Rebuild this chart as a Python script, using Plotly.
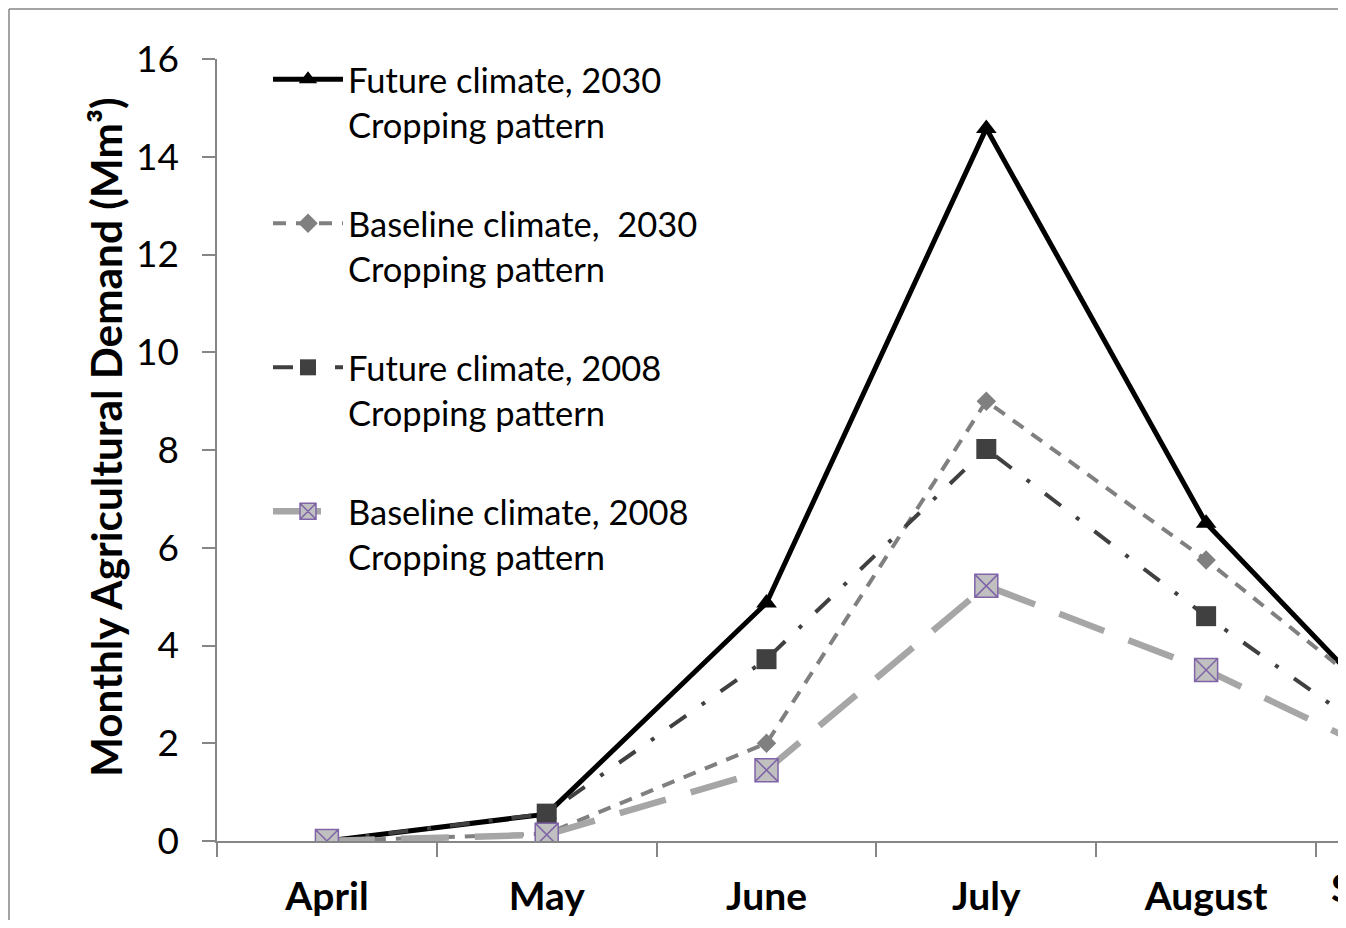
import plotly.graph_objects as go

months = ["April", "May", "June", "July", "August", "September"]
future_2030 = [0.0, 0.55, 4.87, 14.58, 6.5, 1.8]
baseline_2030 = [0.0, 0.15, 2.0, 9.0, 5.75, 2.15]
future_2008 = [0.0, 0.56, 3.72, 8.02, 4.6, 1.42]
baseline_2008 = [0.0, 0.13, 1.45, 5.22, 3.5, 1.35]

names = [
    "Future climate, 2030<br>Cropping pattern",
    "Baseline climate,\u00a0 2030<br>Cropping pattern",
    "Future climate, 2008<br>Cropping pattern",
    "Baseline climate, 2008<br>Cropping pattern",
]
y_title = "Monthly Agricultural Demand (Mm³)"

FONT = "Lato, 'Open Sans', sans-serif"
AXIS = "#868686"
X_RANGE = [-0.5, 4.600]

# page body has an 8px margin, so the figure is offset by 8px in the window
W, H = 1330, 912
ML, MR, MT, MB = 209, 0, 51, 79

fig = go.Figure()
fig.add_trace(go.Scatter(
    x=months, y=future_2030, name=names[0], legendgroup="a", mode="lines+markers",
    line=dict(color="#000000", width=5),
    marker=dict(symbol="triangle-up", size=18, color="#000000"),
))
fig.add_trace(go.Scatter(
    x=months, y=baseline_2030, name=names[1], legendgroup="b", mode="lines+markers",
    line=dict(color="#808080", width=4, dash="13px,10px"),
    marker=dict(symbol="diamond", size=15, color="#808080"),
))
fig.add_trace(go.Scatter(
    x=months, y=future_2008, name=names[2], legendgroup="c", mode="lines+markers",
    line=dict(color="#404040", width=4, dash="20px,19px,4px,19px"),
    marker=dict(symbol="square", size=20, color="#404040"),
))
fig.add_trace(go.Scatter(
    x=months, y=baseline_2008, name=names[3], legendgroup="d", mode="lines+markers",
    line=dict(color="#A6A6A6", width=6.5, dash="48px,26px"),
    marker=dict(symbol="square-x", size=23, color="#C0C0C0",
                line=dict(color="#7F64A8", width=1.5)),
))

plot_w = W - ML - MR
plot_h = H - MT - MB

fig.update_layout(
    width=W, height=H,
    margin=dict(l=ML, r=MR, t=MT, b=MB, pad=0),
    paper_bgcolor="white", plot_bgcolor="white",
    font=dict(family=FONT, color="#000000"),
    showlegend=True,
    legend=dict(
        x=51 / plot_w, y=1.011, xanchor="left", yanchor="top",
        font=dict(family=FONT, size=34.5, color="#000000"),
        bgcolor="rgba(0,0,0,0)", valign="top",
        tracegroupgap=51.3, itemsizing="trace", itemwidth=70, maxheight=800,
    ),
    xaxis=dict(
        type="category", categoryorder="array", categoryarray=months,
        range=X_RANGE, tickson="boundaries",
        ticks="outside", ticklen=14, tickwidth=1.5, tickcolor=AXIS,
        showline=True, linecolor=AXIS, linewidth=1.5,
        showgrid=False, zeroline=False,
        tickfont=dict(family=FONT, size=39, weight="bold", color="#000000"),
        ticklabelstandoff=20,
    ),
    yaxis=dict(
        range=[0, 16], dtick=2, tick0=0,
        ticks="outside", ticklen=13, tickwidth=1.5, tickcolor=AXIS,
        showline=True, linecolor=AXIS, linewidth=1.5,
        showgrid=False, zeroline=False,
        tickfont=dict(family=FONT, size=37, color="#000000"),
        ticklabelstandoff=16,
    ),
)

# y-axis title (placed slightly above the plot centre, as in the reference)
fig.add_annotation(
    x=(97 - ML) / plot_w, xref="paper", y=0.5166, yref="paper",
    text=f"<b>{y_title}</b>", textangle=-90, showarrow=False,
    xanchor="center", yanchor="middle",
    font=dict(family=FONT, size=42.3, color="#000000"),
)

# September category label (partly off-page as in the reference), placed via the axis scale
sep_idx = months.index("September")
sep_paper = (sep_idx - X_RANGE[0]) / (X_RANGE[1] - X_RANGE[0])
fig.add_annotation(
    x=sep_paper, xref="paper", y=0, yref="paper", yshift=-46,
    text="<b>September</b>", showarrow=False, xanchor="center", yanchor="middle",
    font=dict(family=FONT, size=39, color="#000000"),
)

# chart-area border (Excel style): top and left edges visible in the crop
bx = (1 - ML) / plot_w
by = 1 + (MT - 1) / plot_h
fig.add_shape(type="line", xref="paper", yref="paper", x0=bx, x1=1.5, y0=by, y1=by,
              line=dict(color=AXIS, width=1.5), layer="below")
fig.add_shape(type="line", xref="paper", yref="paper", x0=bx, x1=bx, y0=by, y1=-0.5,
              line=dict(color=AXIS, width=1.5), layer="below")

fig.write_html("out.html")
